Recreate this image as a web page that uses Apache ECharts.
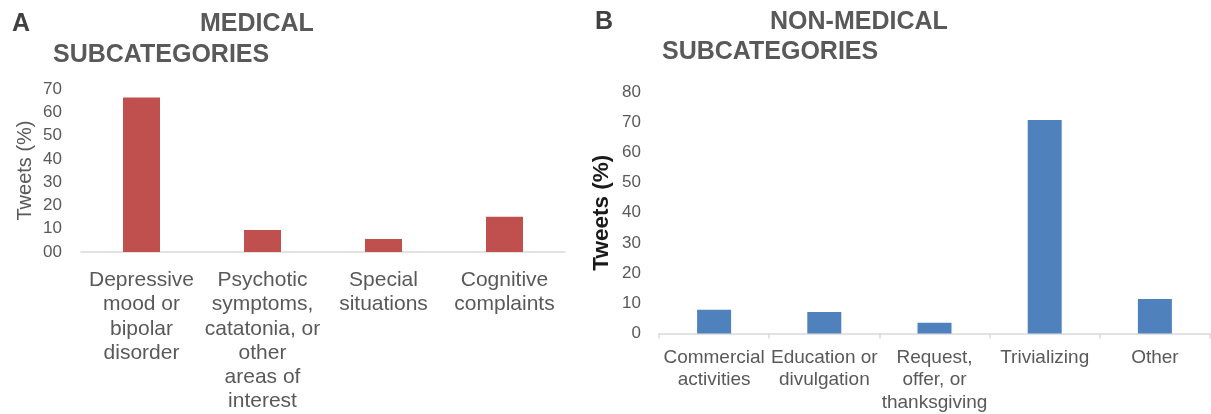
<!DOCTYPE html>
<html>
<head>
<meta charset="utf-8">
<script src="https://cdn.jsdelivr.net/npm/echarts@6/dist/echarts.min.js"></script>
<style>
html,body{margin:0;padding:0;background:#fff;}
#c{width:1211px;height:414px;}
</style>
</head>
<body>
<div id="c"></div>
<script>
// ---- data ----
const categoriesA = ['Depressive\nmood or\nbipolar\ndisorder', 'Psychotic\nsymptoms,\ncatatonia, or\nother\nareas of\ninterest', 'Special\nsituations', 'Cognitive\ncomplaints'];
const valuesA = [66.3, 9.5, 5.6, 15.1];
const tickLabelsA = ['00', '10', '20', '30', '40', '50', '60', '70'];

const categoriesB = ['Commercial\nactivities', 'Education or\ndivulgation', 'Request,\noffer, or\nthanksgiving', 'Trivializing', 'Other'];
const valuesB = [7.9, 7.1, 3.6, 70.7, 11.4];
const tickLabelsB = ['0', '10', '20', '30', '40', '50', '60', '70', '80'];

const panelLetters = ['A', 'B'];
const titleLinesA = ['MEDICAL', 'SUBCATEGORIES'];
const titleLinesB = ['NON-MEDICAL', 'SUBCATEGORIES'];
const yNameA = 'Tweets (%)';
const yNameB = 'Tweets (%)';

// ---- chart ----
const FONT = "'Liberation Sans', Arial, Helvetica, sans-serif";
const chart = echarts.init(document.getElementById('c'), null, {renderer: 'canvas'});

function titleText(x, y, text, color) {
  return {
    type: 'text', x: x, y: y,
    style: {text: text, fontFamily: FONT, fontSize: 25, fontWeight: 'bold', fill: color, verticalAlign: 'middle', align: 'left'}
  };
}

const option = {
  backgroundColor: '#ffffff',
  animation: false,
  graphic: [
    titleText(12, 24, panelLetters[0], '#404040'),
    titleText(200, 24, titleLinesA[0], '#595959'),
    titleText(53, 55, titleLinesA[1], '#595959'),
    titleText(595, 22, panelLetters[1], '#404040'),
    titleText(770, 22, titleLinesB[0], '#595959'),
    titleText(662, 52, titleLinesB[1], '#595959')
  ],
  grid: [
    {left: 81, right: 646, top: 89, bottom: 162, containLabel: false},
    {left: 659, right: 1, top: 92, bottom: 78, containLabel: false}
  ],
  xAxis: [
    {
      type: 'category', gridIndex: 0, data: categoriesA,
      axisLine: {show: true, lineStyle: {color: '#d9d9d9', width: 1.5}},
      axisTick: {show: false},
      axisLabel: {interval: 0, margin: 16, fontFamily: FONT, fontSize: 21, lineHeight: 24.3, color: '#595959', align: 'center'}
    },
    {
      type: 'category', gridIndex: 1, data: categoriesB,
      axisLine: {show: true, lineStyle: {color: '#d9d9d9', width: 1.5}},
      axisTick: {show: true, length: 5, lineStyle: {color: '#d9d9d9', width: 1.5}},
      axisLabel: {interval: 0, margin: 13, fontFamily: FONT, fontSize: 19, lineHeight: 22.5, color: '#595959', align: 'center'}
    }
  ],
  yAxis: [
    {
      type: 'value', gridIndex: 0, min: 0, max: 70, interval: 10,
      name: yNameA, nameLocation: 'middle', nameGap: 46, nameRotate: 90,
      nameTextStyle: {fontFamily: FONT, fontSize: 20, color: '#595959'},
      axisLine: {show: false}, axisTick: {show: false}, splitLine: {show: false},
      axisLabel: {margin: 19, fontFamily: FONT, fontSize: 17, color: '#595959',
        formatter: function (v) { return tickLabelsA[Math.round(v / 10)]; }}
    },
    {
      type: 'value', gridIndex: 1, min: 0, max: 80, interval: 10,
      name: yNameB, nameLocation: 'middle', nameGap: 46, nameRotate: 90,
      nameTextStyle: {fontFamily: FONT, fontSize: 22.5, fontWeight: 'bold', color: '#1a1a1a'},
      axisLine: {show: false}, axisTick: {show: false}, splitLine: {show: false},
      axisLabel: {margin: 18, fontFamily: FONT, fontSize: 17, color: '#595959',
        formatter: function (v) { return tickLabelsB[Math.round(v / 10)]; }}
    }
  ],
  series: [
    {type: 'bar', xAxisIndex: 0, yAxisIndex: 0, data: valuesA, barWidth: 37, itemStyle: {color: '#c0504d'}},
    {type: 'bar', xAxisIndex: 1, yAxisIndex: 1, data: valuesB, barWidth: 34, itemStyle: {color: '#4f81bd'}}
  ]
};
chart.setOption(option);
</script>
</body>
</html>
